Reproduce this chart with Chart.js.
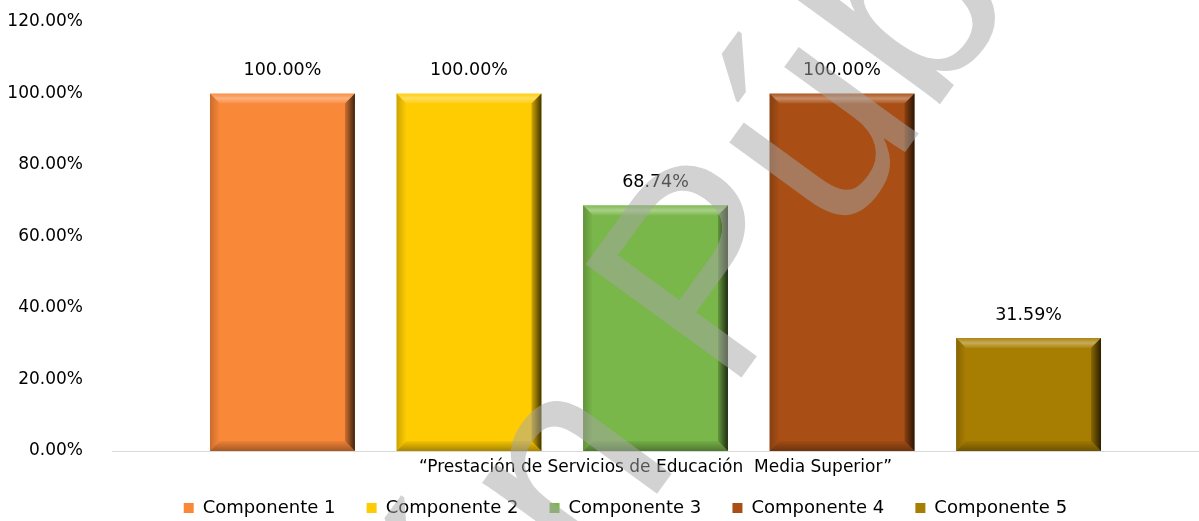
<!DOCTYPE html>
<html>
<head>
<meta charset="utf-8">
<script src="https://cdn.jsdelivr.net/npm/chart.js@4.4.0/dist/chart.umd.min.js"></script>
<style>
html, body { margin: 0; padding: 0; background: #fff; overflow: hidden; }
</style>
</head>
<body>
<canvas id="myChart" width="1199" height="521"></canvas>
<script>
// data
const categories = ['\u201cPrestación de Servicios de Educación  Media Superior\u201d'];
const seriesNames = ['Componente 1', 'Componente 2', 'Componente 3', 'Componente 4', 'Componente 5'];
const seriesValues = [1.0, 1.0, 0.6874, 1.0, 0.3159];
const seriesColors = ['#FA8839', '#FFCC02', '#7AB74A', '#A94F15', '#A87E02'];
const yTicks = { min: 0, max: 1.2, step: 0.2 };
const watermark = 'Versión Pública';

const FONT = "'DejaVu Sans'";

function pct(v) {
    return (v * 100).toFixed(2) + '%';
}

// bevelled look of the bars, value labels, watermark
const bevelPlugin = {
    id: 'bevel',
    afterLayout(chart) {
        // legend in the reference sits a bit right of centre
        chart.legend.left = 69;
    },
    afterDatasetsDraw(chart) {
        const ctx = chart.ctx;
        chart.data.datasets.forEach(function(ds, i) {
            const meta = chart.getDatasetMeta(i);
            meta.data.forEach(function(el) {
                const p = el.getProps(['x', 'y', 'base', 'width'], true);
                const x0 = p.x - p.width / 2, x1 = p.x + p.width / 2;
                const y0 = p.y, y1 = p.base;
                const d = 10;
                ctx.save();
                // top
                let g = ctx.createLinearGradient(0, y0, 0, y0 + d);
                g.addColorStop(0, 'rgba(255,255,255,0.05)');
                g.addColorStop(0.5, 'rgba(255,255,255,0.35)');
                g.addColorStop(1, 'rgba(255,255,255,0.05)');
                ctx.fillStyle = g;
                ctx.beginPath();
                ctx.moveTo(x0, y0); ctx.lineTo(x1, y0); ctx.lineTo(x1 - d, y0 + d); ctx.lineTo(x0 + d, y0 + d);
                ctx.closePath(); ctx.fill();
                // right
                g = ctx.createLinearGradient(x1 - d - 3, 0, x1, 0);
                g.addColorStop(0, 'rgba(0,0,0,0)');
                g.addColorStop(1, 'rgba(0,0,0,0.75)');
                ctx.fillStyle = g;
                ctx.beginPath();
                ctx.moveTo(x1, y0); ctx.lineTo(x1, y1); ctx.lineTo(x1 - d, y1 - d); ctx.lineTo(x1 - d, y0 + d);
                ctx.closePath(); ctx.fill();
                // bottom
                g = ctx.createLinearGradient(0, y1 - d, 0, y1);
                g.addColorStop(0, 'rgba(0,0,0,0.05)');
                g.addColorStop(1, 'rgba(0,0,0,0.35)');
                ctx.fillStyle = g;
                ctx.beginPath();
                ctx.moveTo(x0, y1); ctx.lineTo(x1, y1); ctx.lineTo(x1 - d, y1 - d); ctx.lineTo(x0 + d, y1 - d);
                ctx.closePath(); ctx.fill();
                // left
                g = ctx.createLinearGradient(x0, 0, x0 + d, 0);
                g.addColorStop(0, 'rgba(0,0,0,0.2)');
                g.addColorStop(1, 'rgba(0,0,0,0)');
                ctx.fillStyle = g;
                ctx.beginPath();
                ctx.moveTo(x0, y0); ctx.lineTo(x0, y1); ctx.lineTo(x0 + d, y1 - d); ctx.lineTo(x0 + d, y0 + d);
                ctx.closePath(); ctx.fill();
                ctx.restore();

                // value label
                ctx.save();
                ctx.font = '17.5px ' + FONT;
                ctx.fillStyle = '#000';
                ctx.textAlign = 'center';
                ctx.textBaseline = 'middle';
                ctx.fillText(pct(ds.data[0]), p.x, p.y - 23);
                ctx.restore();
            });
        });
    },
    afterDraw(chart) {
        // grey watermark across the chart
        const ctx = chart.ctx;
        const a = 54 * Math.PI / 180;
        ctx.save();
        ctx.font = '280px "Liberation Sans"';
        ctx.fillStyle = 'rgba(166,166,166,0.5)';
        ctx.textBaseline = 'alphabetic';
        ctx.translate(728, 396);
        ctx.rotate(-a);
        const before = ctx.measureText('Versión ').width;
        ctx.fillText(watermark, -before, 0);
        ctx.restore();
    }
};

const datasets = seriesNames.map(function(name, i) {
    return {
        label: name,
        data: [seriesValues[i]],
        backgroundColor: seriesColors[i],
        borderWidth: 0
    };
});

const ctx = document.getElementById('myChart');
const myChart = new Chart(ctx, {
    type: 'bar',
    data: {
        labels: categories,
        datasets: datasets
    },
    options: {
        responsive: false,
        animation: false,
        devicePixelRatio: 1,
        categoryPercentage: 0.858,
        barPercentage: 0.777,
        layout: {
            padding: { left: 7, right: 0, top: 22, bottom: -6 }
        },
        scales: {
            x: {
                grid: { display: false, drawTicks: false },
                border: { display: true, color: '#d9d9d9', width: 1 },
                ticks: { color: '#000', font: { family: FONT, size: 17 }, padding: 6 },
                afterFit: function(scale) {
                    scale.height = 34;
                    scale.paddingTop = 0;
                    scale.paddingBottom = 0;
                }
            },
            y: {
                min: yTicks.min,
                max: yTicks.max,
                grid: { display: false, drawTicks: false },
                border: { display: false },
                ticks: {
                    stepSize: yTicks.step,
                    color: '#000',
                    font: { family: FONT, size: 17 },
                    padding: 29,
                    callback: function(v) { return pct(v); }
                },
                afterFit: function(scale) {
                    scale.width = 105;
                    scale.paddingTop = 10;
                    scale.paddingBottom = 10;
                }
            }
        },
        plugins: {
            tooltip: { enabled: false },
            legend: {
                position: 'bottom',
                labels: {
                    color: '#000',
                    font: { family: FONT, size: 18 },
                    boxWidth: 10,
                    boxHeight: 10,
                    padding: 14,
                    generateLabels: function(chart) {
                        const items = Chart.defaults.plugins.legend.labels.generateLabels(chart);
                        items.forEach(function(it) { it.text = it.text + '   '; it.lineWidth = 0; });
                        return items;
                    }
                }
            }
        }
    },
    plugins: [bevelPlugin]
});
</script>
</body>
</html>
